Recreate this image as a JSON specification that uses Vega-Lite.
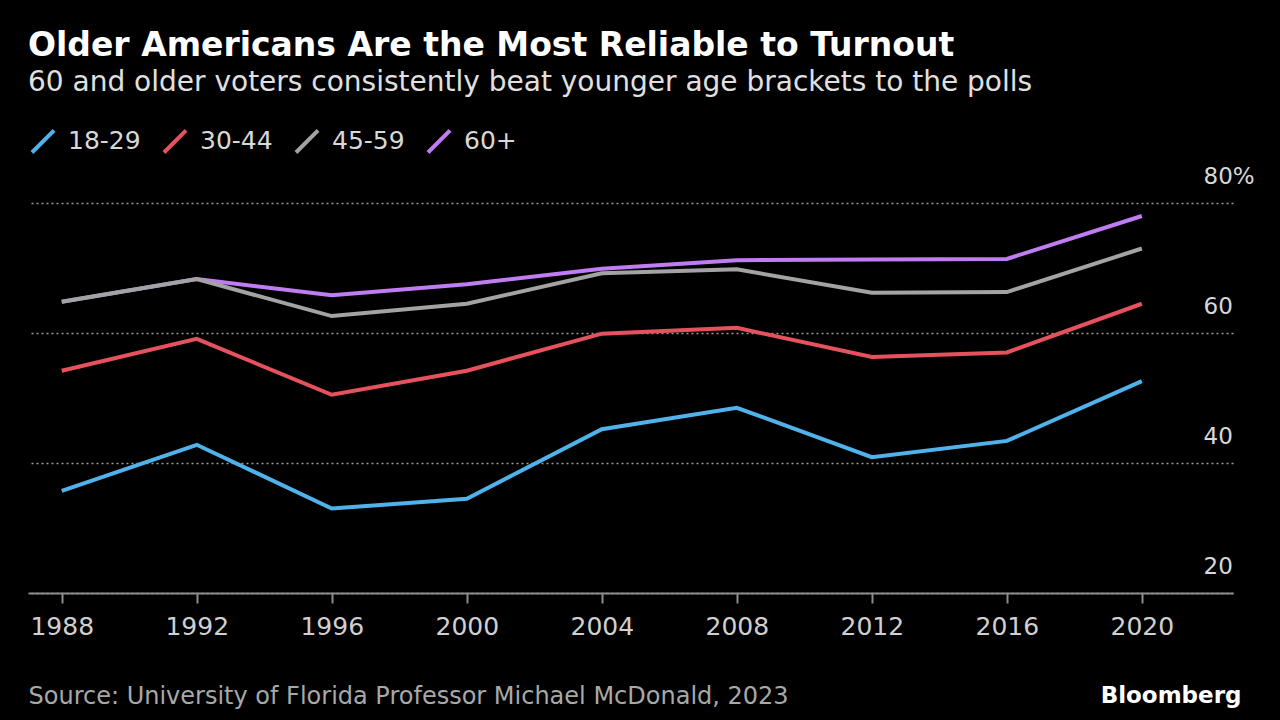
{
  "$schema": "https://vega.github.io/schema/vega-lite/v6.json",
  "width": 1205,
  "height": 390,
  "autosize": {"type": "none"},
  "padding": {"left": 28, "top": 203, "right": 47, "bottom": 127},
  "background": "#000000",
  "config": {"view": {"stroke": null}, "font": "DejaVu Sans"},
  "title": {
    "text": "Older Americans Are the Most Reliable to Turnout",
    "subtitle": "60 and older voters consistently beat younger age brackets to the polls",
    "anchor": "start",
    "frame": "group",
    "color": "#ffffff",
    "font": "DejaVu Sans",
    "fontSize": 33,
    "fontWeight": "bold",
    "subtitleColor": "#e0e0e0",
    "subtitleFont": "DejaVu Sans",
    "subtitleFontSize": 28,
    "subtitlePadding": 6,
    "offset": 29
  },
  "data": {
    "values": [
      {"year": 1988, "age": "18-29", "turnout": 35.7},
      {"year": 1992, "age": "18-29", "turnout": 42.8},
      {"year": 1996, "age": "18-29", "turnout": 33.0},
      {"year": 2000, "age": "18-29", "turnout": 34.5},
      {"year": 2004, "age": "18-29", "turnout": 45.2},
      {"year": 2008, "age": "18-29", "turnout": 48.5},
      {"year": 2012, "age": "18-29", "turnout": 40.9},
      {"year": 2016, "age": "18-29", "turnout": 43.4},
      {"year": 2020, "age": "18-29", "turnout": 52.6},
      {"year": 1988, "age": "30-44", "turnout": 54.2},
      {"year": 1992, "age": "30-44", "turnout": 59.1},
      {"year": 1996, "age": "30-44", "turnout": 50.5},
      {"year": 2000, "age": "30-44", "turnout": 54.2},
      {"year": 2004, "age": "30-44", "turnout": 59.9},
      {"year": 2008, "age": "30-44", "turnout": 60.8},
      {"year": 2012, "age": "30-44", "turnout": 56.3},
      {"year": 2016, "age": "30-44", "turnout": 57.0},
      {"year": 2020, "age": "30-44", "turnout": 64.5},
      {"year": 1988, "age": "45-59", "turnout": 64.8},
      {"year": 1992, "age": "45-59", "turnout": 68.3},
      {"year": 1996, "age": "45-59", "turnout": 62.6},
      {"year": 2000, "age": "45-59", "turnout": 64.5},
      {"year": 2004, "age": "45-59", "turnout": 69.2},
      {"year": 2008, "age": "45-59", "turnout": 69.8},
      {"year": 2012, "age": "45-59", "turnout": 66.2},
      {"year": 2016, "age": "45-59", "turnout": 66.3},
      {"year": 2020, "age": "45-59", "turnout": 73.0},
      {"year": 1988, "age": "60+", "turnout": 64.8},
      {"year": 1992, "age": "60+", "turnout": 68.3},
      {"year": 1996, "age": "60+", "turnout": 65.8},
      {"year": 2000, "age": "60+", "turnout": 67.5},
      {"year": 2004, "age": "60+", "turnout": 69.9},
      {"year": 2008, "age": "60+", "turnout": 71.2},
      {"year": 2012, "age": "60+", "turnout": 71.3},
      {"year": 2016, "age": "60+", "turnout": 71.4},
      {"year": 2020, "age": "60+", "turnout": 78.0}
    ]
  },
  "encoding": {
    "x": {
      "field": "year",
      "type": "quantitative",
      "scale": {"domain": [1987, 2022.7], "nice": false, "zero": false},
      "axis": {
        "orient": "bottom",
        "values": [1988, 1992, 1996, 2000, 2004, 2008, 2012, 2016, 2020],
        "format": "d",
        "grid": false,
        "domainColor": "#8c8c8c",
        "domainWidth": 2,
        "tickColor": "#8c8c8c",
        "tickSize": 10,
        "tickWidth": 2,
        "labelColor": "#d0d0d0",
        "labelFont": "DejaVu Sans",
        "labelFontSize": 25,
        "labelPadding": 11,
        "title": "Source: University of Florida Professor Michael McDonald, 2023",
        "titleAnchor": "start",
        "titleAlign": "left",
        "titleX": 0,
        "titleY": 110,
        "titleBaseline": "alphabetic",
        "titleColor": "#a8a8a8",
        "titleFont": "DejaVu Sans",
        "titleFontSize": 24,
        "titleFontWeight": "normal"
      }
    },
    "y": {
      "field": "turnout",
      "type": "quantitative",
      "scale": {"domain": [20, 80], "nice": false, "zero": false},
      "axis": {
        "orient": "right",
        "values": [20, 40, 60, 80],
        "grid": true,
        "gridColor": "#9a9a9a",
        "gridDash": [2, 3],
        "gridWidth": 1.5,
        "domain": false,
        "ticks": false,
        "tickSize": 0,
        "labelPadding": -30,
        "labelAlign": "left",
        "labelBaseline": "middle",
        "labelOffset": -27,
        "labelColor": "#d8d8d8",
        "labelFont": "DejaVu Sans",
        "labelFontSize": 23,
        "labelExpr": "datum.value == 80 ? '80%' : datum.label",
        "title": "Bloomberg",
        "titleAngle": 0,
        "titleAlign": "right",
        "titleBaseline": "alphabetic",
        "titleX": 8,
        "titleY": 499,
        "titleColor": "#ffffff",
        "titleFont": "DejaVu Sans",
        "titleFontSize": 23,
        "titleFontWeight": "bold"
      }
    },
    "color": {
      "field": "age",
      "type": "nominal",
      "scale": {
        "domain": ["18-29", "30-44", "45-59", "60+"],
        "range": ["#4fb2ea", "#e5525e", "#a3a3a3", "#c07cf2"]
      },
      "legend": {
        "orient": "none",
        "legendX": 0,
        "legendY": -77,
        "direction": "horizontal",
        "columns": 4,
        "gridAlign": "all",
        "columnPadding": 14,
        "padding": 0,
        "title": null,
        "symbolType": "M-0.85,0.85L0.85,-0.85",
        "symbolSize": 676,
        "symbolStrokeWidth": 4,
        "labelOffset": 10,
        "labelColor": "#d8d8d8",
        "labelFont": "DejaVu Sans",
        "labelFontSize": 25
      }
    }
  },
  "layer": [
    {
      "transform": [{"filter": "datum.age != '45-59'"}],
      "mark": {"type": "line", "strokeWidth": 4}
    },
    {
      "transform": [{"filter": "datum.age == '45-59'"}],
      "mark": {"type": "line", "strokeWidth": 4}
    }
  ]
}
